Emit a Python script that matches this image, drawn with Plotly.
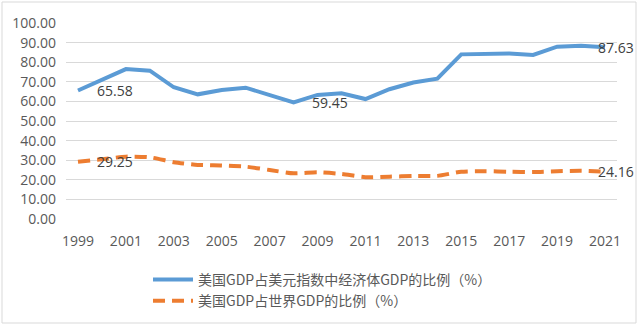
import plotly.graph_objects as go

years = list(range(1999, 2022))
share_dollar_index = [65.58, 71.0, 76.5, 75.7, 67.2, 63.6, 65.8, 67.0, 63.3, 59.45, 63.3, 64.1,
                      61.2, 66.2, 69.6, 71.6, 84.0, 84.0, 84.5, 83.7, 87.9, 88.4, 87.63]
share_world = [29.25, 30.5, 31.8, 31.5, 29.0, 27.6, 27.3, 26.7, 25.0, 23.3, 23.8, 23.0,
               21.3, 21.6, 21.9, 22.0, 24.1, 24.4, 24.1, 24.0, 24.4, 24.6, 24.16]
series_names = ["美国GDP占美元指数中经济体GDP的比例（%）", "美国GDP占世界GDP的比例（%）"]
x_tick_years = list(range(1999, 2022, 2))
y_ticks = [0, 10, 20, 30, 40, 50, 60, 70, 80, 90, 100]

L, R, T, B = 66, 23, 23, 110
W, H = 640, 329
pw, ph = W - L - R, H - T - B

def px(xp):
    return (xp - L) / pw

def py(yp):
    return (H - B - yp) / ph

fig = go.Figure()
fig.add_trace(go.Scatter(x=years, y=share_dollar_index, mode="lines", name=series_names[0],
                         line=dict(color="#5b9bd5", width=4)))
fig.add_trace(go.Scatter(x=years, y=share_world, mode="lines", name=series_names[1],
                         line=dict(color="#ed7d31", width=4, dash="12px,7px", shape="spline", smoothing=0.6)))

label_font = dict(family="Open Sans, Liberation Sans, sans-serif", size=14, color="#404040")
labels = [
    (0, share_dollar_index, 17),
    (9, share_dollar_index, 16),
    (22, share_dollar_index, -9),
    (0, share_world, 17),
    (22, share_world, -9),
]
for idx, arr, xs in labels:
    fig.add_annotation(x=years[idx], y=arr[idx], text=f"{arr[idx]:.2f}", showarrow=False,
                       xanchor="left", yanchor="middle", xshift=xs, font=label_font)

fig.add_shape(type="rect", xref="paper", yref="paper",
              x0=px(2), x1=px(636), y0=py(2), y1=py(323),
              line=dict(color="#d9d9d9", width=1), layer="below")

fig.update_layout(
    width=W, height=H,
    margin=dict(l=L, r=R, t=T, b=B),
    paper_bgcolor="white", plot_bgcolor="white",
    font=dict(family="Open Sans, Liberation Sans, sans-serif", color="#595959"),
    xaxis=dict(range=[1998.5, 2021.5], tickvals=x_tick_years, ticktext=[str(y) for y in x_tick_years],
               showgrid=False, zeroline=False, showline=False, ticks="", ticklabelstandoff=12,
               tickfont=dict(size=14, color="#595959")),
    yaxis=dict(range=[0, 100], tickvals=y_ticks, tickformat=".2f",
               showgrid=True, gridcolor="#d9d9d9", gridwidth=1, zeroline=False,
               showline=False, ticks="", ticklabelstandoff=9, tickfont=dict(size=14, color="#595959")),
    showlegend=True,
    legend=dict(x=px(148), y=py(264), xanchor="left", yanchor="top",
                font=dict(family="Noto Sans CJK SC", size=14, color="#595959"),
                bgcolor="rgba(0,0,0,0)", tracegroupgap=0, itemwidth=40),
)

fig.write_html("out.html")
